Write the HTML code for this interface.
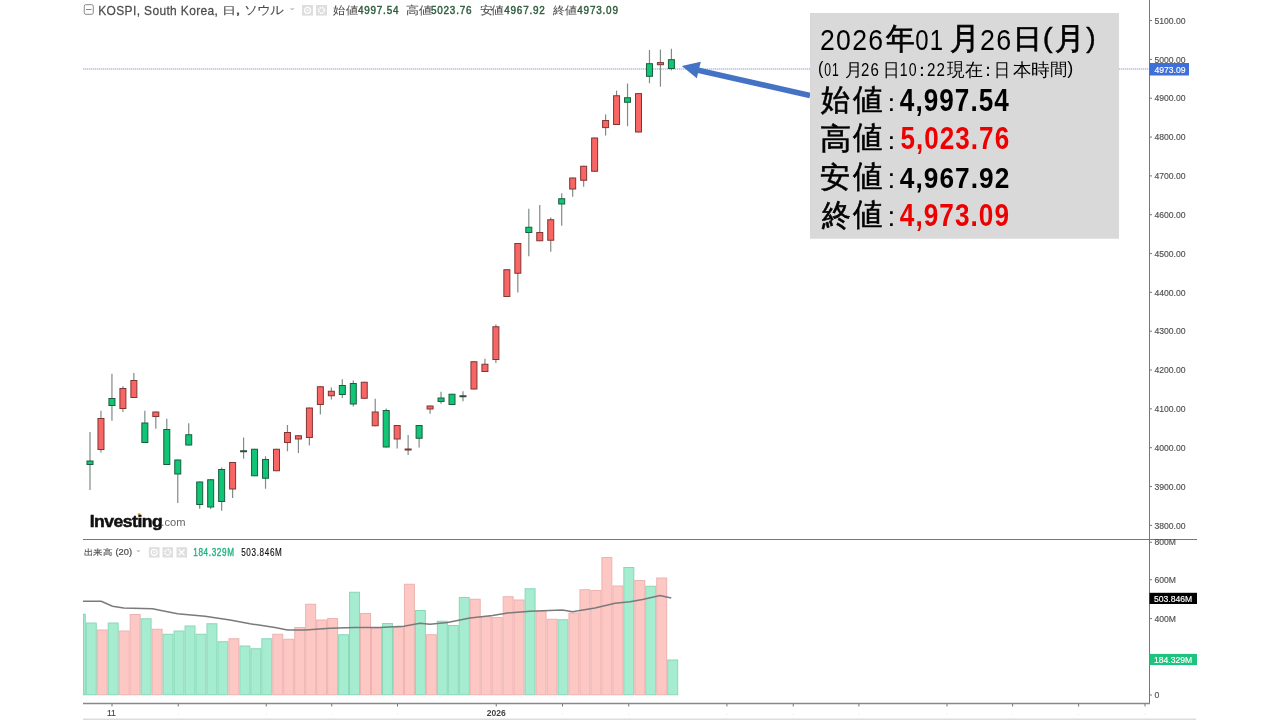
<!DOCTYPE html>
<html><head><meta charset="utf-8">
<style>
html,body{margin:0;padding:0;background:#fff;}
body{width:1280px;height:720px;position:relative;overflow:hidden;font-family:"Liberation Sans",sans-serif;}
svg{position:absolute;left:0;top:0;will-change:transform;}
text{font-family:"Liberation Sans",sans-serif;}
.ax{font-size:8.6px;fill:#505050;stroke:#505050;stroke-width:0.15px;}
.axw{fill:#fff;stroke:#fff;}
.xl{font-size:9.5px;fill:#444;}
</style></head><body>
<svg width="1280" height="720" viewBox="0 0 1280 720">
<line x1="83" y1="69" x2="1149" y2="69" stroke="#d8dcf2" stroke-width="1"/>
<line x1="83" y1="69" x2="1149" y2="69" stroke="#a2a9dc" stroke-width="1" stroke-dasharray="1,1"/>
<line x1="90.00" y1="432.00" x2="90.00" y2="490.00" stroke="#7f8c85" stroke-width="1.2"/>
<rect x="87.00" y="461.00" width="6" height="3.50" fill="#10c576" stroke="#1b5e3e" stroke-width="1"/>
<line x1="100.97" y1="410.75" x2="100.97" y2="452.50" stroke="#7f8c85" stroke-width="1.2"/>
<rect x="97.97" y="418.50" width="6" height="31.00" fill="#f76664" stroke="#813634" stroke-width="1"/>
<line x1="111.94" y1="373.75" x2="111.94" y2="420.75" stroke="#7f8c85" stroke-width="1.2"/>
<rect x="108.94" y="398.50" width="6" height="7.00" fill="#10c576" stroke="#1b5e3e" stroke-width="1"/>
<line x1="122.91" y1="386.25" x2="122.91" y2="412.00" stroke="#7f8c85" stroke-width="1.2"/>
<rect x="119.91" y="388.50" width="6" height="20.00" fill="#f76664" stroke="#813634" stroke-width="1"/>
<line x1="133.88" y1="373.00" x2="133.88" y2="398.00" stroke="#7f8c85" stroke-width="1.2"/>
<rect x="130.88" y="380.50" width="6" height="17.00" fill="#f76664" stroke="#813634" stroke-width="1"/>
<line x1="144.85" y1="410.75" x2="144.85" y2="443.00" stroke="#7f8c85" stroke-width="1.2"/>
<rect x="141.85" y="423.00" width="6" height="19.50" fill="#10c576" stroke="#1b5e3e" stroke-width="1"/>
<line x1="155.82" y1="411.50" x2="155.82" y2="428.75" stroke="#7f8c85" stroke-width="1.2"/>
<rect x="152.82" y="412.00" width="6" height="4.50" fill="#f76664" stroke="#813634" stroke-width="1"/>
<line x1="166.79" y1="418.75" x2="166.79" y2="465.00" stroke="#7f8c85" stroke-width="1.2"/>
<rect x="163.79" y="429.50" width="6" height="35.00" fill="#10c576" stroke="#1b5e3e" stroke-width="1"/>
<line x1="177.76" y1="459.50" x2="177.76" y2="503.00" stroke="#7f8c85" stroke-width="1.2"/>
<rect x="174.76" y="460.00" width="6" height="14.00" fill="#10c576" stroke="#1b5e3e" stroke-width="1"/>
<line x1="188.73" y1="423.25" x2="188.73" y2="445.50" stroke="#7f8c85" stroke-width="1.2"/>
<rect x="185.73" y="434.75" width="6" height="10.25" fill="#10c576" stroke="#1b5e3e" stroke-width="1"/>
<line x1="199.70" y1="481.50" x2="199.70" y2="508.75" stroke="#7f8c85" stroke-width="1.2"/>
<rect x="196.70" y="482.00" width="6" height="22.50" fill="#10c576" stroke="#1b5e3e" stroke-width="1"/>
<line x1="210.67" y1="479.00" x2="210.67" y2="509.00" stroke="#7f8c85" stroke-width="1.2"/>
<rect x="207.67" y="479.75" width="6" height="27.25" fill="#10c576" stroke="#1b5e3e" stroke-width="1"/>
<line x1="221.64" y1="467.50" x2="221.64" y2="510.75" stroke="#7f8c85" stroke-width="1.2"/>
<rect x="218.64" y="469.50" width="6" height="32.00" fill="#10c576" stroke="#1b5e3e" stroke-width="1"/>
<line x1="232.61" y1="462.00" x2="232.61" y2="498.00" stroke="#7f8c85" stroke-width="1.2"/>
<rect x="229.61" y="462.50" width="6" height="26.50" fill="#f76664" stroke="#813634" stroke-width="1"/>
<line x1="243.58" y1="437.50" x2="243.58" y2="458.75" stroke="#7f8c85" stroke-width="1.2"/>
<line x1="240.08" y1="451.25" x2="247.08" y2="451.25" stroke="#2d4a3a" stroke-width="2"/>
<line x1="254.55" y1="448.75" x2="254.55" y2="476.25" stroke="#7f8c85" stroke-width="1.2"/>
<rect x="251.55" y="449.25" width="6" height="26.50" fill="#10c576" stroke="#1b5e3e" stroke-width="1"/>
<line x1="265.52" y1="456.25" x2="265.52" y2="488.75" stroke="#7f8c85" stroke-width="1.2"/>
<rect x="262.52" y="459.50" width="6" height="18.75" fill="#10c576" stroke="#1b5e3e" stroke-width="1"/>
<line x1="276.49" y1="448.75" x2="276.49" y2="471.25" stroke="#7f8c85" stroke-width="1.2"/>
<rect x="273.49" y="449.25" width="6" height="21.50" fill="#f76664" stroke="#813634" stroke-width="1"/>
<line x1="287.46" y1="425.00" x2="287.46" y2="451.25" stroke="#7f8c85" stroke-width="1.2"/>
<rect x="284.46" y="432.50" width="6" height="10.00" fill="#f76664" stroke="#813634" stroke-width="1"/>
<line x1="298.43" y1="435.00" x2="298.43" y2="453.00" stroke="#7f8c85" stroke-width="1.2"/>
<rect x="295.43" y="435.75" width="6" height="3.25" fill="#f76664" stroke="#813634" stroke-width="1"/>
<line x1="309.40" y1="407.50" x2="309.40" y2="445.50" stroke="#7f8c85" stroke-width="1.2"/>
<rect x="306.40" y="408.00" width="6" height="29.50" fill="#f76664" stroke="#813634" stroke-width="1"/>
<line x1="320.37" y1="386.00" x2="320.37" y2="414.50" stroke="#7f8c85" stroke-width="1.2"/>
<rect x="317.37" y="386.75" width="6" height="17.75" fill="#f76664" stroke="#813634" stroke-width="1"/>
<line x1="331.34" y1="387.50" x2="331.34" y2="399.50" stroke="#7f8c85" stroke-width="1.2"/>
<rect x="328.34" y="391.25" width="6" height="4.50" fill="#f76664" stroke="#813634" stroke-width="1"/>
<line x1="342.31" y1="379.25" x2="342.31" y2="398.00" stroke="#7f8c85" stroke-width="1.2"/>
<rect x="339.31" y="385.50" width="6" height="9.00" fill="#10c576" stroke="#1b5e3e" stroke-width="1"/>
<line x1="353.28" y1="380.50" x2="353.28" y2="406.50" stroke="#7f8c85" stroke-width="1.2"/>
<rect x="350.28" y="383.50" width="6" height="20.50" fill="#10c576" stroke="#1b5e3e" stroke-width="1"/>
<line x1="364.25" y1="381.75" x2="364.25" y2="398.75" stroke="#7f8c85" stroke-width="1.2"/>
<rect x="361.25" y="382.25" width="6" height="16.00" fill="#f76664" stroke="#813634" stroke-width="1"/>
<line x1="375.22" y1="398.75" x2="375.22" y2="426.25" stroke="#7f8c85" stroke-width="1.2"/>
<rect x="372.22" y="412.00" width="6" height="13.75" fill="#f76664" stroke="#813634" stroke-width="1"/>
<line x1="386.19" y1="408.50" x2="386.19" y2="447.50" stroke="#7f8c85" stroke-width="1.2"/>
<rect x="383.19" y="410.50" width="6" height="36.50" fill="#10c576" stroke="#1b5e3e" stroke-width="1"/>
<line x1="397.16" y1="425.00" x2="397.16" y2="448.50" stroke="#7f8c85" stroke-width="1.2"/>
<rect x="394.16" y="425.50" width="6" height="13.50" fill="#f76664" stroke="#813634" stroke-width="1"/>
<line x1="408.13" y1="435.00" x2="408.13" y2="455.00" stroke="#7f8c85" stroke-width="1.2"/>
<line x1="404.63" y1="449.50" x2="411.63" y2="449.50" stroke="#7b3531" stroke-width="2"/>
<line x1="419.10" y1="425.00" x2="419.10" y2="447.50" stroke="#7f8c85" stroke-width="1.2"/>
<rect x="416.10" y="425.50" width="6" height="12.75" fill="#10c576" stroke="#1b5e3e" stroke-width="1"/>
<line x1="430.07" y1="405.50" x2="430.07" y2="413.75" stroke="#7f8c85" stroke-width="1.2"/>
<rect x="427.07" y="406.00" width="6" height="3.00" fill="#f76664" stroke="#813634" stroke-width="1"/>
<line x1="441.04" y1="391.75" x2="441.04" y2="403.75" stroke="#7f8c85" stroke-width="1.2"/>
<rect x="438.04" y="398.00" width="6" height="3.50" fill="#10c576" stroke="#1b5e3e" stroke-width="1"/>
<line x1="452.01" y1="393.75" x2="452.01" y2="405.00" stroke="#7f8c85" stroke-width="1.2"/>
<rect x="449.01" y="394.25" width="6" height="10.25" fill="#10c576" stroke="#1b5e3e" stroke-width="1"/>
<line x1="462.98" y1="391.25" x2="462.98" y2="401.25" stroke="#7f8c85" stroke-width="1.2"/>
<line x1="459.48" y1="396.25" x2="466.48" y2="396.25" stroke="#2d4a3a" stroke-width="2"/>
<line x1="473.95" y1="361.25" x2="473.95" y2="389.50" stroke="#7f8c85" stroke-width="1.2"/>
<rect x="470.95" y="361.75" width="6" height="27.25" fill="#f76664" stroke="#813634" stroke-width="1"/>
<line x1="484.92" y1="358.75" x2="484.92" y2="372.00" stroke="#7f8c85" stroke-width="1.2"/>
<rect x="481.92" y="364.25" width="6" height="7.25" fill="#f76664" stroke="#813634" stroke-width="1"/>
<line x1="495.89" y1="324.50" x2="495.89" y2="363.00" stroke="#7f8c85" stroke-width="1.2"/>
<rect x="492.89" y="326.75" width="6" height="32.75" fill="#f76664" stroke="#813634" stroke-width="1"/>
<line x1="506.86" y1="269.25" x2="506.86" y2="297.00" stroke="#7f8c85" stroke-width="1.2"/>
<rect x="503.86" y="269.75" width="6" height="26.75" fill="#f76664" stroke="#813634" stroke-width="1"/>
<line x1="517.83" y1="243.00" x2="517.83" y2="292.50" stroke="#7f8c85" stroke-width="1.2"/>
<rect x="514.83" y="243.50" width="6" height="29.75" fill="#f76664" stroke="#813634" stroke-width="1"/>
<line x1="528.80" y1="208.75" x2="528.80" y2="256.25" stroke="#7f8c85" stroke-width="1.2"/>
<rect x="525.80" y="227.25" width="6" height="5.25" fill="#10c576" stroke="#1b5e3e" stroke-width="1"/>
<line x1="539.77" y1="205.00" x2="539.77" y2="241.25" stroke="#7f8c85" stroke-width="1.2"/>
<rect x="536.77" y="232.50" width="6" height="8.25" fill="#f76664" stroke="#813634" stroke-width="1"/>
<line x1="550.74" y1="217.50" x2="550.74" y2="251.75" stroke="#7f8c85" stroke-width="1.2"/>
<rect x="547.74" y="219.75" width="6" height="20.50" fill="#f76664" stroke="#813634" stroke-width="1"/>
<line x1="561.71" y1="193.25" x2="561.71" y2="225.75" stroke="#7f8c85" stroke-width="1.2"/>
<rect x="558.71" y="198.75" width="6" height="5.25" fill="#10c576" stroke="#1b5e3e" stroke-width="1"/>
<line x1="572.68" y1="177.50" x2="572.68" y2="196.75" stroke="#7f8c85" stroke-width="1.2"/>
<rect x="569.68" y="178.00" width="6" height="11.00" fill="#f76664" stroke="#813634" stroke-width="1"/>
<line x1="583.65" y1="165.75" x2="583.65" y2="186.75" stroke="#7f8c85" stroke-width="1.2"/>
<rect x="580.65" y="166.25" width="6" height="14.00" fill="#f76664" stroke="#813634" stroke-width="1"/>
<line x1="594.62" y1="137.50" x2="594.62" y2="171.75" stroke="#7f8c85" stroke-width="1.2"/>
<rect x="591.62" y="138.00" width="6" height="33.25" fill="#f76664" stroke="#813634" stroke-width="1"/>
<line x1="605.59" y1="114.40" x2="605.59" y2="135.50" stroke="#7f8c85" stroke-width="1.2"/>
<rect x="602.59" y="120.50" width="6" height="7.10" fill="#f76664" stroke="#813634" stroke-width="1"/>
<line x1="616.56" y1="90.60" x2="616.56" y2="125.00" stroke="#7f8c85" stroke-width="1.2"/>
<rect x="613.56" y="95.75" width="6" height="28.75" fill="#f76664" stroke="#813634" stroke-width="1"/>
<line x1="627.53" y1="83.50" x2="627.53" y2="126.25" stroke="#7f8c85" stroke-width="1.2"/>
<rect x="624.53" y="97.75" width="6" height="4.50" fill="#10c576" stroke="#1b5e3e" stroke-width="1"/>
<line x1="638.50" y1="93.10" x2="638.50" y2="132.50" stroke="#7f8c85" stroke-width="1.2"/>
<rect x="635.50" y="93.60" width="6" height="38.40" fill="#f76664" stroke="#813634" stroke-width="1"/>
<line x1="649.47" y1="50.00" x2="649.47" y2="83.30" stroke="#7f8c85" stroke-width="1.2"/>
<rect x="646.47" y="63.70" width="6" height="12.60" fill="#10c576" stroke="#1b5e3e" stroke-width="1"/>
<line x1="660.44" y1="49.60" x2="660.44" y2="86.70" stroke="#7f8c85" stroke-width="1.2"/>
<rect x="657.44" y="62.60" width="6" height="2.10" fill="#f76664" stroke="#813634" stroke-width="1"/>
<line x1="671.41" y1="48.75" x2="671.41" y2="70.40" stroke="#7f8c85" stroke-width="1.2"/>
<rect x="668.41" y="59.70" width="6" height="8.80" fill="#10c576" stroke="#1b5e3e" stroke-width="1"/>
<rect x="83.50" y="614.25" width="1.80" height="80.50" fill="#a6ecd0" stroke="#8ad8b8" stroke-width="1"/>
<rect x="86.30" y="623.00" width="9.97" height="71.75" fill="#a6ecd0" stroke="#8ad8b8" stroke-width="1"/>
<rect x="97.27" y="630.00" width="9.97" height="64.75" fill="#fdc7c4" stroke="#ecb3b0" stroke-width="1"/>
<rect x="108.24" y="623.00" width="9.97" height="71.75" fill="#a6ecd0" stroke="#8ad8b8" stroke-width="1"/>
<rect x="119.21" y="631.00" width="9.97" height="63.75" fill="#fdc7c4" stroke="#ecb3b0" stroke-width="1"/>
<rect x="130.18" y="614.50" width="9.97" height="80.25" fill="#fdc7c4" stroke="#ecb3b0" stroke-width="1"/>
<rect x="141.15" y="618.75" width="9.97" height="76.00" fill="#a6ecd0" stroke="#8ad8b8" stroke-width="1"/>
<rect x="152.12" y="629.25" width="9.97" height="65.50" fill="#fdc7c4" stroke="#ecb3b0" stroke-width="1"/>
<rect x="163.09" y="634.25" width="9.97" height="60.50" fill="#a6ecd0" stroke="#8ad8b8" stroke-width="1"/>
<rect x="174.06" y="631.00" width="9.97" height="63.75" fill="#a6ecd0" stroke="#8ad8b8" stroke-width="1"/>
<rect x="185.03" y="626.00" width="9.97" height="68.75" fill="#a6ecd0" stroke="#8ad8b8" stroke-width="1"/>
<rect x="196.00" y="634.25" width="9.97" height="60.50" fill="#a6ecd0" stroke="#8ad8b8" stroke-width="1"/>
<rect x="206.97" y="623.75" width="9.97" height="71.00" fill="#a6ecd0" stroke="#8ad8b8" stroke-width="1"/>
<rect x="217.94" y="641.75" width="9.97" height="53.00" fill="#a6ecd0" stroke="#8ad8b8" stroke-width="1"/>
<rect x="228.91" y="638.75" width="9.97" height="56.00" fill="#fdc7c4" stroke="#ecb3b0" stroke-width="1"/>
<rect x="239.88" y="646.00" width="9.97" height="48.75" fill="#a6ecd0" stroke="#8ad8b8" stroke-width="1"/>
<rect x="250.85" y="648.75" width="9.97" height="46.00" fill="#a6ecd0" stroke="#8ad8b8" stroke-width="1"/>
<rect x="261.82" y="638.75" width="9.97" height="56.00" fill="#a6ecd0" stroke="#8ad8b8" stroke-width="1"/>
<rect x="272.79" y="634.25" width="9.97" height="60.50" fill="#fdc7c4" stroke="#ecb3b0" stroke-width="1"/>
<rect x="283.76" y="639.25" width="9.97" height="55.50" fill="#fdc7c4" stroke="#ecb3b0" stroke-width="1"/>
<rect x="294.73" y="627.50" width="9.97" height="67.25" fill="#fdc7c4" stroke="#ecb3b0" stroke-width="1"/>
<rect x="305.70" y="604.25" width="9.97" height="90.50" fill="#fdc7c4" stroke="#ecb3b0" stroke-width="1"/>
<rect x="316.67" y="620.00" width="9.97" height="74.75" fill="#fdc7c4" stroke="#ecb3b0" stroke-width="1"/>
<rect x="327.64" y="618.50" width="9.97" height="76.25" fill="#fdc7c4" stroke="#ecb3b0" stroke-width="1"/>
<rect x="338.61" y="634.75" width="9.97" height="60.00" fill="#a6ecd0" stroke="#8ad8b8" stroke-width="1"/>
<rect x="349.58" y="592.25" width="9.97" height="102.50" fill="#a6ecd0" stroke="#8ad8b8" stroke-width="1"/>
<rect x="360.55" y="613.50" width="9.97" height="81.25" fill="#fdc7c4" stroke="#ecb3b0" stroke-width="1"/>
<rect x="371.52" y="628.00" width="9.97" height="66.75" fill="#fdc7c4" stroke="#ecb3b0" stroke-width="1"/>
<rect x="382.49" y="623.50" width="9.97" height="71.25" fill="#a6ecd0" stroke="#8ad8b8" stroke-width="1"/>
<rect x="393.46" y="627.50" width="9.97" height="67.25" fill="#fdc7c4" stroke="#ecb3b0" stroke-width="1"/>
<rect x="404.43" y="584.25" width="9.97" height="110.50" fill="#fdc7c4" stroke="#ecb3b0" stroke-width="1"/>
<rect x="415.40" y="610.50" width="9.97" height="84.25" fill="#a6ecd0" stroke="#8ad8b8" stroke-width="1"/>
<rect x="426.37" y="634.75" width="9.97" height="60.00" fill="#fdc7c4" stroke="#ecb3b0" stroke-width="1"/>
<rect x="437.34" y="621.25" width="9.97" height="73.50" fill="#a6ecd0" stroke="#8ad8b8" stroke-width="1"/>
<rect x="448.31" y="625.50" width="9.97" height="69.25" fill="#a6ecd0" stroke="#8ad8b8" stroke-width="1"/>
<rect x="459.28" y="597.50" width="9.97" height="97.25" fill="#a6ecd0" stroke="#8ad8b8" stroke-width="1"/>
<rect x="470.25" y="599.25" width="9.97" height="95.50" fill="#fdc7c4" stroke="#ecb3b0" stroke-width="1"/>
<rect x="481.22" y="616.75" width="9.97" height="78.00" fill="#fdc7c4" stroke="#ecb3b0" stroke-width="1"/>
<rect x="492.19" y="617.50" width="9.97" height="77.25" fill="#fdc7c4" stroke="#ecb3b0" stroke-width="1"/>
<rect x="503.16" y="596.75" width="9.97" height="98.00" fill="#fdc7c4" stroke="#ecb3b0" stroke-width="1"/>
<rect x="514.13" y="600.00" width="9.97" height="94.75" fill="#fdc7c4" stroke="#ecb3b0" stroke-width="1"/>
<rect x="525.10" y="588.75" width="9.97" height="106.00" fill="#a6ecd0" stroke="#8ad8b8" stroke-width="1"/>
<rect x="536.07" y="611.25" width="9.97" height="83.50" fill="#fdc7c4" stroke="#ecb3b0" stroke-width="1"/>
<rect x="547.04" y="619.25" width="9.97" height="75.50" fill="#fdc7c4" stroke="#ecb3b0" stroke-width="1"/>
<rect x="558.01" y="619.75" width="9.97" height="75.00" fill="#a6ecd0" stroke="#8ad8b8" stroke-width="1"/>
<rect x="568.98" y="613.00" width="9.97" height="81.75" fill="#fdc7c4" stroke="#ecb3b0" stroke-width="1"/>
<rect x="579.95" y="589.75" width="9.97" height="105.00" fill="#fdc7c4" stroke="#ecb3b0" stroke-width="1"/>
<rect x="590.92" y="590.50" width="9.97" height="104.25" fill="#fdc7c4" stroke="#ecb3b0" stroke-width="1"/>
<rect x="601.89" y="557.50" width="9.97" height="137.25" fill="#fdc7c4" stroke="#ecb3b0" stroke-width="1"/>
<rect x="612.86" y="586.00" width="9.97" height="108.75" fill="#fdc7c4" stroke="#ecb3b0" stroke-width="1"/>
<rect x="623.83" y="567.50" width="9.97" height="127.25" fill="#a6ecd0" stroke="#8ad8b8" stroke-width="1"/>
<rect x="634.80" y="580.50" width="9.97" height="114.25" fill="#fdc7c4" stroke="#ecb3b0" stroke-width="1"/>
<rect x="645.77" y="586.25" width="9.97" height="108.50" fill="#a6ecd0" stroke="#8ad8b8" stroke-width="1"/>
<rect x="656.74" y="578.00" width="9.97" height="116.75" fill="#fdc7c4" stroke="#ecb3b0" stroke-width="1"/>
<rect x="667.71" y="660.00" width="9.97" height="34.75" fill="#a6ecd0" stroke="#8ad8b8" stroke-width="1"/>
<polyline points="83.00,601.25 101.25,601.25 112.50,606.25 123.75,608.00 152.50,608.75 177.50,613.75 205.00,616.25 230.00,620.00 250.00,623.75 275.00,627.50 287.50,630.00 305.00,630.00 330.00,628.25 355.00,627.50 380.00,627.50 403.75,626.25 420.00,623.25 430.00,624.25 447.50,622.50 470.00,618.00 492.50,615.50 507.50,613.00 530.00,611.25 562.50,610.00 572.50,611.75 595.00,608.00 615.00,603.25 630.00,601.75 642.50,599.50 660.00,595.50 671.25,598.00" fill="none" stroke="#7a7a7a" stroke-width="1.5"/>
<line x1="1149.5" y1="0" x2="1149.5" y2="703.5" stroke="#777" stroke-width="1"/>
<line x1="83" y1="539.5" x2="1197" y2="539.5" stroke="#777" stroke-width="1"/>
<line x1="83" y1="703.5" x2="1150" y2="703.5" stroke="#888" stroke-width="1.5"/>
<rect x="83" y="718.5" width="1113" height="2" fill="#dcdcdc"/>
<line x1="1150" y1="20.57" x2="1152" y2="20.57" stroke="#777" stroke-width="1"/>
<text x="1154.5" y="23.77" class="ax">5100.00</text>
<line x1="1150" y1="59.40" x2="1152" y2="59.40" stroke="#777" stroke-width="1"/>
<text x="1154.5" y="62.60" class="ax">5000.00</text>
<line x1="1150" y1="98.23" x2="1152" y2="98.23" stroke="#777" stroke-width="1"/>
<text x="1154.5" y="101.43" class="ax">4900.00</text>
<line x1="1150" y1="137.06" x2="1152" y2="137.06" stroke="#777" stroke-width="1"/>
<text x="1154.5" y="140.26" class="ax">4800.00</text>
<line x1="1150" y1="175.89" x2="1152" y2="175.89" stroke="#777" stroke-width="1"/>
<text x="1154.5" y="179.09" class="ax">4700.00</text>
<line x1="1150" y1="214.72" x2="1152" y2="214.72" stroke="#777" stroke-width="1"/>
<text x="1154.5" y="217.92" class="ax">4600.00</text>
<line x1="1150" y1="253.55" x2="1152" y2="253.55" stroke="#777" stroke-width="1"/>
<text x="1154.5" y="256.75" class="ax">4500.00</text>
<line x1="1150" y1="292.38" x2="1152" y2="292.38" stroke="#777" stroke-width="1"/>
<text x="1154.5" y="295.58" class="ax">4400.00</text>
<line x1="1150" y1="331.21" x2="1152" y2="331.21" stroke="#777" stroke-width="1"/>
<text x="1154.5" y="334.41" class="ax">4300.00</text>
<line x1="1150" y1="370.04" x2="1152" y2="370.04" stroke="#777" stroke-width="1"/>
<text x="1154.5" y="373.24" class="ax">4200.00</text>
<line x1="1150" y1="408.87" x2="1152" y2="408.87" stroke="#777" stroke-width="1"/>
<text x="1154.5" y="412.07" class="ax">4100.00</text>
<line x1="1150" y1="447.70" x2="1152" y2="447.70" stroke="#777" stroke-width="1"/>
<text x="1154.5" y="450.90" class="ax">4000.00</text>
<line x1="1150" y1="486.53" x2="1152" y2="486.53" stroke="#777" stroke-width="1"/>
<text x="1154.5" y="489.73" class="ax">3900.00</text>
<line x1="1150" y1="525.36" x2="1152" y2="525.36" stroke="#777" stroke-width="1"/>
<text x="1154.5" y="528.56" class="ax">3800.00</text>
<rect x="1149" y="63" width="40" height="12.5" fill="#3f6fd8"/>
<text x="1154.5" y="72.6" class="ax axw">4973.09</text>
<line x1="1150" y1="542.20" x2="1152" y2="542.20" stroke="#777" stroke-width="1"/>
<text x="1154.5" y="545.40" class="ax">800M</text>
<line x1="1150" y1="579.70" x2="1152" y2="579.70" stroke="#777" stroke-width="1"/>
<text x="1154.5" y="582.90" class="ax">600M</text>
<line x1="1150" y1="618.60" x2="1152" y2="618.60" stroke="#777" stroke-width="1"/>
<text x="1154.5" y="621.80" class="ax">400M</text>
<line x1="1150" y1="695.00" x2="1152" y2="695.00" stroke="#777" stroke-width="1"/>
<text x="1154.5" y="698.20" class="ax">0</text>
<rect x="1149.5" y="592.8" width="47.5" height="11.2" fill="#000"/>
<text x="1154" y="601.6" class="ax axw">503.846M</text>
<rect x="1149.5" y="653.9" width="47.5" height="11.2" fill="#1ec47e"/>
<text x="1154" y="662.7" class="ax axw">184.329M</text>
<line x1="112" y1="704" x2="112" y2="706.5" stroke="#777" stroke-width="1"/>
<line x1="178.25" y1="704" x2="178.25" y2="706.5" stroke="#777" stroke-width="1"/>
<rect x="177.75" y="713.5" width="1" height="1" fill="#e4e4e4"/>
<line x1="266.25" y1="704" x2="266.25" y2="706.5" stroke="#777" stroke-width="1"/>
<rect x="265.75" y="713.5" width="1" height="1" fill="#e4e4e4"/>
<line x1="331.75" y1="704" x2="331.75" y2="706.5" stroke="#777" stroke-width="1"/>
<rect x="331.25" y="713.5" width="1" height="1" fill="#e4e4e4"/>
<line x1="397.5" y1="704" x2="397.5" y2="706.5" stroke="#777" stroke-width="1"/>
<rect x="397.0" y="713.5" width="1" height="1" fill="#e4e4e4"/>
<line x1="496.25" y1="704" x2="496.25" y2="706.5" stroke="#777" stroke-width="1"/>
<line x1="562.5" y1="704" x2="562.5" y2="706.5" stroke="#777" stroke-width="1"/>
<rect x="562.0" y="713.5" width="1" height="1" fill="#e4e4e4"/>
<line x1="628.75" y1="704" x2="628.75" y2="706.5" stroke="#777" stroke-width="1"/>
<rect x="628.25" y="713.5" width="1" height="1" fill="#e4e4e4"/>
<line x1="726.9" y1="704" x2="726.9" y2="706.5" stroke="#777" stroke-width="1"/>
<rect x="726.4" y="713.5" width="1" height="1" fill="#e4e4e4"/>
<line x1="793.25" y1="704" x2="793.25" y2="706.5" stroke="#777" stroke-width="1"/>
<rect x="792.75" y="713.5" width="1" height="1" fill="#e4e4e4"/>
<line x1="858.9" y1="704" x2="858.9" y2="706.5" stroke="#777" stroke-width="1"/>
<rect x="858.4" y="713.5" width="1" height="1" fill="#e4e4e4"/>
<line x1="947" y1="704" x2="947" y2="706.5" stroke="#777" stroke-width="1"/>
<rect x="946.5" y="713.5" width="1" height="1" fill="#e4e4e4"/>
<line x1="1012.6" y1="704" x2="1012.6" y2="706.5" stroke="#777" stroke-width="1"/>
<rect x="1012.1" y="713.5" width="1" height="1" fill="#e4e4e4"/>
<line x1="1078.6" y1="704" x2="1078.6" y2="706.5" stroke="#777" stroke-width="1"/>
<rect x="1078.1" y="713.5" width="1" height="1" fill="#e4e4e4"/>
<line x1="1145" y1="704" x2="1145" y2="706.5" stroke="#777" stroke-width="1"/>
<rect x="1144.5" y="713.5" width="1" height="1" fill="#e4e4e4"/>
<line x1="810" y1="95.5" x2="697" y2="70" stroke="#4472c4" stroke-width="5.5"/>
<polygon points="681.8,66 700.8,61.8 696.8,78.25" fill="#4472c4"/>
<rect x="84.25" y="4.7" width="9" height="9.6" rx="1.5" fill="none" stroke="#888" stroke-width="1"/>
<line x1="86" y1="9.5" x2="91.5" y2="9.5" stroke="#888" stroke-width="1"/>
<polygon points="289.7,8.4 294.8,8.4 292.25,10" fill="#aaa"/>
<rect x="302" y="5" width="11" height="10.6" fill="#dedede"/>
<rect x="316" y="5" width="11" height="10.6" fill="#dedede"/>
<circle cx="307.5" cy="10.3" r="3" fill="none" stroke="#fff" stroke-width="1.2"/><circle cx="307.5" cy="10.3" r="1" fill="#fff"/>
<circle cx="321.5" cy="10.3" r="2.8" fill="none" stroke="#fff" stroke-width="1.8" stroke-dasharray="1.4,0.8"/>
<polygon points="136.2,550.4 140.5,550.4 138.35,551.9" fill="#aaa"/>
<rect x="148.9" y="547.2" width="10.6" height="10.3" fill="#dedede"/>
<rect x="162.5" y="547.2" width="10.6" height="10.3" fill="#dedede"/>
<rect x="176.5" y="547.2" width="10.6" height="10.3" fill="#dedede"/>
<circle cx="154.2" cy="552.35" r="3" fill="none" stroke="#fff" stroke-width="1.2"/><circle cx="154.2" cy="552.35" r="1" fill="#fff"/>
<circle cx="167.8" cy="552.35" r="2.8" fill="none" stroke="#fff" stroke-width="1.8" stroke-dasharray="1.4,0.8"/>
<path d="M178.8,549.5 L184.5,555.2 M184.5,549.5 L178.8,555.2" stroke="#fff" stroke-width="1.3"/>
<circle cx="139.1" cy="514.2" r="1.3" fill="#f5a623"/>
<rect x="810" y="13" width="309" height="225.75" fill="#d9d9d9"/>
<text transform="translate(819.920,49.947) scale(0.26601,0.30282)" font-size="100" font-weight="normal" fill="#000" letter-spacing="5">2026</text>
<text transform="translate(885.961,49.467) scale(0.28947,0.30272)" font-size="100" font-weight="normal" fill="#000" stroke="#000" stroke-width="2.5">年</text>
<text transform="translate(915.291,49.947) scale(0.23972,0.30282)" font-size="100" font-weight="normal" fill="#000" letter-spacing="5">01</text>
<text transform="translate(949.753,49.350) scale(0.29932,0.31250)" font-size="100" font-weight="normal" fill="#000" stroke="#000" stroke-width="2.5">月</text>
<text transform="translate(979.907,49.947) scale(0.26869,0.30282)" font-size="100" font-weight="normal" fill="#000" letter-spacing="5">26</text>
<text transform="translate(1013.234,48.341) scale(0.29104,0.27159)" font-size="100" font-weight="normal" fill="#000" stroke="#000" stroke-width="2.5">日</text>
<text transform="translate(1042.723,46.735) scale(0.29615,0.28404)" font-size="100" font-weight="normal" fill="#000" stroke="#000" stroke-width="1.5">(</text>
<text transform="translate(1055.334,49.361) scale(0.29315,0.30739)" font-size="100" font-weight="normal" fill="#000" stroke="#000" stroke-width="2.5">月</text>
<text transform="translate(1086.367,46.735) scale(0.28269,0.28404)" font-size="100" font-weight="normal" fill="#000" stroke="#000" stroke-width="1.5">)</text>
<text transform="translate(817.931,74.247) scale(0.16154,0.17872)" font-size="100" font-weight="normal" fill="#000">(</text>
<text transform="translate(824.313,75.717) scale(0.12182,0.18310)" font-size="100" font-weight="normal" fill="#000" letter-spacing="8">01</text>
<text transform="translate(845.110,75.805) scale(0.17808,0.18295)" font-size="100" font-weight="normal" fill="#000">月</text>
<text transform="translate(861.050,75.717) scale(0.15000,0.18310)" font-size="100" font-weight="normal" fill="#000" letter-spacing="8">26</text>
<text transform="translate(882.560,75.586) scale(0.16269,0.17614)" font-size="100" font-weight="normal" fill="#000">日</text>
<text transform="translate(899.871,75.717) scale(0.14112,0.18310)" font-size="100" font-weight="normal" fill="#000" letter-spacing="8">10</text>
<text transform="translate(919.110,75.600) scale(0.21000,0.20909)" font-size="100" font-weight="normal" fill="#000">.</text>
<text transform="translate(919.110,69.400) scale(0.21000,0.20909)" font-size="100" font-weight="normal" fill="#000">.</text>
<text transform="translate(926.943,75.900) scale(0.15138,0.18571)" font-size="100" font-weight="normal" fill="#000" letter-spacing="8">22</text>
<text transform="translate(947.000,75.760) scale(0.17245,0.18667)" font-size="100" font-weight="normal" fill="#000">現</text>
<text transform="translate(965.334,75.809) scale(0.18298,0.18261)" font-size="100" font-weight="normal" fill="#000">在</text>
<text transform="translate(985.200,75.900) scale(0.20000,0.20909)" font-size="100" font-weight="normal" fill="#000">.</text>
<text transform="translate(985.200,68.900) scale(0.20000,0.20909)" font-size="100" font-weight="normal" fill="#000">.</text>
<text transform="translate(994.360,75.718) scale(0.16269,0.18182)" font-size="100" font-weight="normal" fill="#000">日</text>
<text transform="translate(1012.617,75.755) scale(0.18298,0.17872)" font-size="100" font-weight="normal" fill="#000">本</text>
<text transform="translate(1030.883,75.755) scale(0.18611,0.17872)" font-size="100" font-weight="normal" fill="#000">時</text>
<text transform="translate(1049.633,75.465) scale(0.17791,0.17391)" font-size="100" font-weight="normal" fill="#000">間</text>
<text transform="translate(1067.319,74.236) scale(0.18077,0.17447)" font-size="100" font-weight="normal" fill="#000">)</text>
<text transform="translate(821.411,109.715) scale(0.28854,0.29892)" font-size="100" font-weight="normal" fill="#000" stroke="#000" stroke-width="2">始</text>
<text transform="translate(853.300,110.014) scale(0.29583,0.29892)" font-size="100" font-weight="normal" fill="#000" stroke="#000" stroke-width="2">値</text>
<text transform="translate(887.480,111.100) scale(0.28000,0.25455)" font-size="100" font-weight="normal" fill="#000">.</text>
<text transform="translate(887.480,101.100) scale(0.28000,0.25455)" font-size="100" font-weight="normal" fill="#000">.</text>
<text transform="translate(899.827,110.992) scale(0.26133,0.30845)" font-size="100" font-weight="bold" fill="#000" letter-spacing="4">4,997.54</text>
<text transform="translate(820.144,148.625) scale(0.31124,0.29794)" font-size="100" font-weight="normal" fill="#000" stroke="#000" stroke-width="2">高</text>
<text transform="translate(853.300,148.160) scale(0.29583,0.31075)" font-size="100" font-weight="normal" fill="#000" stroke="#000" stroke-width="2">値</text>
<text transform="translate(887.480,148.900) scale(0.28000,0.25455)" font-size="100" font-weight="normal" fill="#000">.</text>
<text transform="translate(887.480,138.900) scale(0.28000,0.25455)" font-size="100" font-weight="normal" fill="#000">.</text>
<text transform="translate(900.418,149.392) scale(0.26058,0.30845)" font-size="100" font-weight="bold" fill="#ee0000" letter-spacing="4">5,023.76</text>
<text transform="translate(820.482,187.013) scale(0.30440,0.29192)" font-size="100" font-weight="normal" fill="#000" stroke="#000" stroke-width="2">安</text>
<text transform="translate(853.300,187.060) scale(0.29583,0.31075)" font-size="100" font-weight="normal" fill="#000" stroke="#000" stroke-width="2">値</text>
<text transform="translate(887.480,188.300) scale(0.28000,0.25455)" font-size="100" font-weight="normal" fill="#000">.</text>
<text transform="translate(887.480,176.100) scale(0.28000,0.25455)" font-size="100" font-weight="normal" fill="#000">.</text>
<text transform="translate(899.775,187.800) scale(0.26253,0.30000)" font-size="100" font-weight="bold" fill="#000" letter-spacing="4">4,967.92</text>
<text transform="translate(821.700,225.630) scale(0.29158,0.31413)" font-size="100" font-weight="normal" fill="#000" stroke="#000" stroke-width="2">終</text>
<text transform="translate(853.300,225.360) scale(0.29583,0.31075)" font-size="100" font-weight="normal" fill="#000" stroke="#000" stroke-width="2">値</text>
<text transform="translate(887.480,226.000) scale(0.28000,0.25455)" font-size="100" font-weight="normal" fill="#000">.</text>
<text transform="translate(887.480,213.800) scale(0.28000,0.25455)" font-size="100" font-weight="normal" fill="#000">.</text>
<text transform="translate(899.776,225.793) scale(0.26189,0.30704)" font-size="100" font-weight="bold" fill="#ee0000" letter-spacing="4">4,973.09</text>
<text transform="translate(98.240,14.875) scale(0.11996,0.12535)" font-size="100" font-weight="normal" fill="#4d4d4d" stroke="#4d4d4d" stroke-width="2" letter-spacing="3">KOSPI, South Korea,</text>
<text transform="translate(221.784,13.545) scale(0.14776,0.10455)" font-size="100" font-weight="normal" fill="#4d4d4d" stroke="#4d4d4d" stroke-width="1">日</text>
<text transform="translate(235.580,14.483) scale(0.18000,0.11667)" font-size="100" font-weight="normal" fill="#4d4d4d" stroke="#4d4d4d" stroke-width="3">,</text>
<text transform="translate(244.274,13.688) scale(0.13276,0.11628)" font-size="100" font-weight="normal" fill="#4d4d4d" stroke="#4d4d4d" stroke-width="1">ソウル</text>
<text transform="translate(333.277,13.851) scale(0.12256,0.11064)" font-size="100" font-weight="normal" fill="#4d4d4d" stroke="#4d4d4d" stroke-width="0.8">始値</text>
<text transform="translate(358.002,13.989) scale(0.09876,0.11056)" font-size="100" font-weight="normal" fill="#2d5b3d" stroke="#2d5b3d" stroke-width="4" letter-spacing="8">4997.54</text>
<text transform="translate(405.874,14.020) scale(0.12513,0.10612)" font-size="100" font-weight="normal" fill="#4d4d4d" stroke="#4d4d4d" stroke-width="0.8">高値</text>
<text transform="translate(430.902,13.989) scale(0.09950,0.11056)" font-size="100" font-weight="normal" fill="#2d5b3d" stroke="#2d5b3d" stroke-width="4" letter-spacing="8">5023.76</text>
<text transform="translate(479.712,13.929) scale(0.12188,0.10505)" font-size="100" font-weight="normal" fill="#4d4d4d" stroke="#4d4d4d" stroke-width="0.8">安値</text>
<text transform="translate(504.201,13.989) scale(0.09925,0.11056)" font-size="100" font-weight="normal" fill="#2d5b3d" stroke="#2d5b3d" stroke-width="4" letter-spacing="8">4967.92</text>
<text transform="translate(552.800,13.946) scale(0.12194,0.11183)" font-size="100" font-weight="normal" fill="#4d4d4d" stroke="#4d4d4d" stroke-width="0.8">終値</text>
<text transform="translate(577.301,13.989) scale(0.09926,0.11056)" font-size="100" font-weight="normal" fill="#2d5b3d" stroke="#2d5b3d" stroke-width="4" letter-spacing="8">4973.09</text>
<text transform="translate(83.633,555.235) scale(0.09444,0.08041)" font-size="100" font-weight="normal" fill="#4d4d4d" stroke="#4d4d4d" stroke-width="1.5">出来高</text>
<text transform="translate(115.440,554.989) scale(0.09337,0.09574)" font-size="100" font-weight="normal" fill="#4d4d4d" stroke="#4d4d4d" stroke-width="2.5">(20)</text>
<text transform="translate(193.248,555.994) scale(0.08144,0.10563)" font-size="100" font-weight="normal" fill="#26b582" stroke="#26b582" stroke-width="4" letter-spacing="8">184.329M</text>
<text transform="translate(241.175,555.994) scale(0.08129,0.10563)" font-size="100" font-weight="normal" fill="#111" stroke="#111" stroke-width="1.5" letter-spacing="8">503.846M</text>
<text transform="translate(106.905,715.700) scale(0.08681,0.09710)" font-size="100" font-weight="normal" fill="#444" stroke="#444" stroke-width="2">11</text>
<text transform="translate(486.643,716.008) scale(0.08565,0.09155)" font-size="100" font-weight="bold" fill="#444">2026</text>
<text transform="translate(89.769,526.500) scale(0.17581,0.16812)" font-size="100" font-weight="bold" fill="#111" stroke="#111" stroke-width="3" letter-spacing="-3">Investing</text>
<text transform="translate(161.297,526.382) scale(0.11144,0.11818)" font-size="100" font-weight="normal" fill="#666">.com</text>
</svg>
</body></html>
